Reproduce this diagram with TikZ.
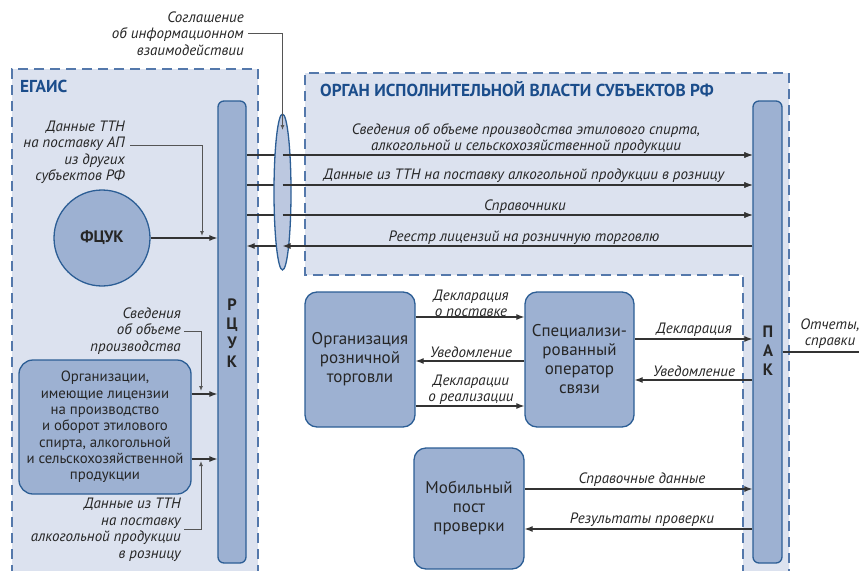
\documentclass[tikz,border=0pt]{standalone}
\usepackage{fontspec}
\setmainfont{PT Sans}
\usetikzlibrary{arrows.meta,shapes.geometric,calc}
\definecolor{regfill}{HTML}{DCE2EF}
\definecolor{dashc}{HTML}{5478AB}
\definecolor{boxfill}{HTML}{9DB1D2}
\definecolor{boxline}{HTML}{2C5E95}
\definecolor{ellfill}{HTML}{BCC8E0}
\definecolor{titlec}{HTML}{1B4D8B}
\definecolor{txt}{HTML}{262626}
\definecolor{linec}{HTML}{333333}
\definecolor{annc}{HTML}{555555}
\pgfdeclarelayer{bg}\pgfdeclarelayer{mid}\pgfsetlayers{bg,mid,main}
\begin{document}
\begin{tikzpicture}[x=1pt,y=-1pt,
 every node/.style={text=txt},
 bar/.style={draw=boxline, fill=boxfill, line width=1.3pt, rounded corners=6pt, inner sep=0pt},
 blk/.style={draw=boxline, fill=boxfill, line width=1.3pt, rounded corners=14pt, inner sep=0pt, align=center},
 lab/.style={font=\fontsize{15}{16.5}\selectfont\itshape, inner sep=0pt, align=center},
 labr/.style={lab, align=right, anchor=east},
 ttl/.style={font=\fontsize{17.3}{19}\selectfont\bfseries, text=titlec, inner sep=0pt, anchor=west},
 vlet/.style={font=\fontsize{16.5}{19}\selectfont\bfseries, align=center, inner sep=0pt},
 arr/.style={draw=linec, line width=1.1pt, -{Latex[length=8pt,width=6pt]}},
 plain/.style={draw=linec, line width=1.1pt},
 ann/.style={draw=annc, line width=1pt, -{Latex[length=5pt,width=4pt]}},
 dsh/.style={draw=dashc, line width=2.6pt, dash pattern=on 10pt off 6pt},
]
\useasboundingbox (0,0) rectangle (859,570);
\begin{pgfonlayer}{bg}
\fill[regfill] (12,69) rectangle (258,575);
\fill[regfill] (305,73) -- (789,73) -- (789,575) -- (743,575) -- (743,275) -- (305,275) -- cycle;
\draw[dsh] (12,575) -- (12,69) -- (258,69) -- (258,575);
\draw[dsh] (743,575) -- (743,275) -- (305,275) -- (305,73) -- (789,73) -- (789,575);
\end{pgfonlayer}

% titles
\node[ttl] (tegais) at (20,86) {ЕГАИС};
\node[ttl] (torgan) at (320,89) {ОРГАН ИСПОЛНИТЕЛЬНОЙ ВЛАСТИ СУБЪЕКТОВ РФ};

% bars
\node[bar, minimum width=28, minimum height=462] (rcuk) at (232,332) {};
\node[bar, minimum width=29, minimum height=462] (pak) at (767.5,332) {};
\node[vlet] (rcukt) at (232,333) {Р\\Ц\\У\\К};
\node[vlet] (pakt) at (768,351) {П\\А\\К};

% ellipse
\node[ellipse, draw=boxline, fill=ellfill, line width=1.3pt, minimum width=17, minimum height=156, inner sep=0pt] (ell) at (282.5,192) {};

% FCUK
\node[circle, draw=boxline, fill=boxfill, line width=1.3pt, minimum size=96, inner sep=0pt, font=\fontsize{16.5}{19}\selectfont\bfseries] (fcuk) at (102,238) {ФЦУК};

% boxes
\node[blk, minimum width=172, minimum height=134, font=\fontsize{14.8}{16.3}\selectfont] (org) at (105,427) {Организации,\\имеющие лицензии\\на производство\\и оборот этилового\\спирта, алкогольной\\и сельскохозяйственной\\продукции};
\node[blk, rounded corners=12pt, minimum width=110, minimum height=135, font=\fontsize{17}{19}\selectfont] (ret) at (360,359.5) {Организация\\розничной\\торговли};
\node[blk, rounded corners=12pt, minimum width=109, minimum height=135, font=\fontsize{17}{19}\selectfont] (spec) at (579.5,359.5) {Специализи-\\рованный\\оператор\\связи};
\node[blk, rounded corners=12pt, minimum width=110, minimum height=121, font=\fontsize{17}{19}\selectfont] (mob) at (469,508.5) {Мобильный\\пост\\проверки};

% labels
\node[labr] (agree) at (244,33.5) {Соглашение\\об информационном\\взаимодействии};
\node[labr] (ttn1) at (125,152.5) {Данные ТТН\\на поставку АП\\из других\\субъектов РФ};
\node[labr] (sved) at (181,331) {Сведения\\об объеме\\производства};
\node[labr] (ttn2) at (181,530) {Данные из ТТН\\на поставку\\алкогольной продукции\\в розницу};
\node[lab, font=\fontsize{15}{16}\selectfont\itshape] (l1) at (526,139) {Сведения об объеме производства этилового спирта,\\алкогольной и сельскохозяйственной продукции};
\node[lab] (l2) at (524,176) {Данные из ТТН на поставку алкогольной продукции в розницу};
\node[lab] (l3) at (525,207) {Справочники};
\node[lab] (l4) at (524,238) {Реестр лицензий на розничную торговлю};
\node[lab, font=\fontsize{15}{16}\selectfont\itshape] (d1) at (471,303) {Декларация\\о поставке};
\node[lab] (u1) at (471,352) {Уведомление};
\node[lab, font=\fontsize{15}{16}\selectfont\itshape] (d2) at (471,390) {Декларации\\о реализации};
\node[lab] (d3) at (694,330) {Декларация};
\node[lab] (u2) at (694,371) {Уведомление};
\node[lab] (s1) at (642,480) {Справочные данные};
\node[lab] (r1) at (642,520) {Результаты проверки};
\node[lab, font=\fontsize{15}{16}\selectfont\itshape] (otch) at (830,334) {Отчеты,\\справки};

% coordinates for free ends
\coordinate (c1s) at (130,145);
\coordinate (c1e) at (202,236);
\coordinate (c2e) at (201,391);
\coordinate (c3s) at (184,529);
\coordinate (c3e) at (201,461);
\coordinate (outr) at (862,352);

% long lines under the ellipse
\begin{pgfonlayer}{mid}
\draw[arr] (rcuk.east |- 0,155) -- (pak.west |- 0,155);
\draw[arr] (rcuk.east |- 0,185) -- (pak.west |- 0,185);
\draw[arr] (rcuk.east |- 0,215) -- (pak.west |- 0,215);
\draw[arr] (pak.west |- 0,246) -- (rcuk.east |- 0,246);
\end{pgfonlayer}
\draw[arr] (ell.center |- 0,155) -- (pak.west |- 0,155);
\draw[arr] (ell.center |- 0,185) -- (pak.west |- 0,185);
\draw[arr] (ell.center |- 0,215) -- (pak.west |- 0,215);
\draw[arr] (pak.west |- 0,246) -- (ell.center |- 0,246);

% agreement
\draw[ann] ([xshift=4pt]agree.east) -| (ell.center |- 0,130);

% left side
\draw[arr] (fcuk.east) -- (rcuk.west |- fcuk.east);
\draw[ann] (c1s) -| (c1e);
\draw[arr] (org.east |- 0,394) -- (rcuk.west |- 0,394);
\draw[arr] (org.east |- 0,459) -- (rcuk.west |- 0,459);
\draw[ann] ([xshift=3pt]sved.east) -| (c2e);
\draw[ann] (c3s) -| (c3e);

% bottom
\draw[arr] (ret.east |- 0,317) -- (spec.west |- 0,317);
\draw[arr] (spec.west |- 0,361) -- (ret.east |- 0,361);
\draw[arr] (ret.east |- 0,406) -- (spec.west |- 0,406);
\draw[arr] (spec.east |- 0,339) -- (pak.west |- 0,339);
\draw[arr] (pak.west |- 0,380) -- (spec.east |- 0,380);
\draw[arr] (mob.east |- 0,489) -- (pak.west |- 0,489);
\draw[arr] (pak.west |- 0,529) -- (mob.east |- 0,529);
\draw[plain] (pak.east |- 0,352) -- (outr);
\end{tikzpicture}
\end{document}
